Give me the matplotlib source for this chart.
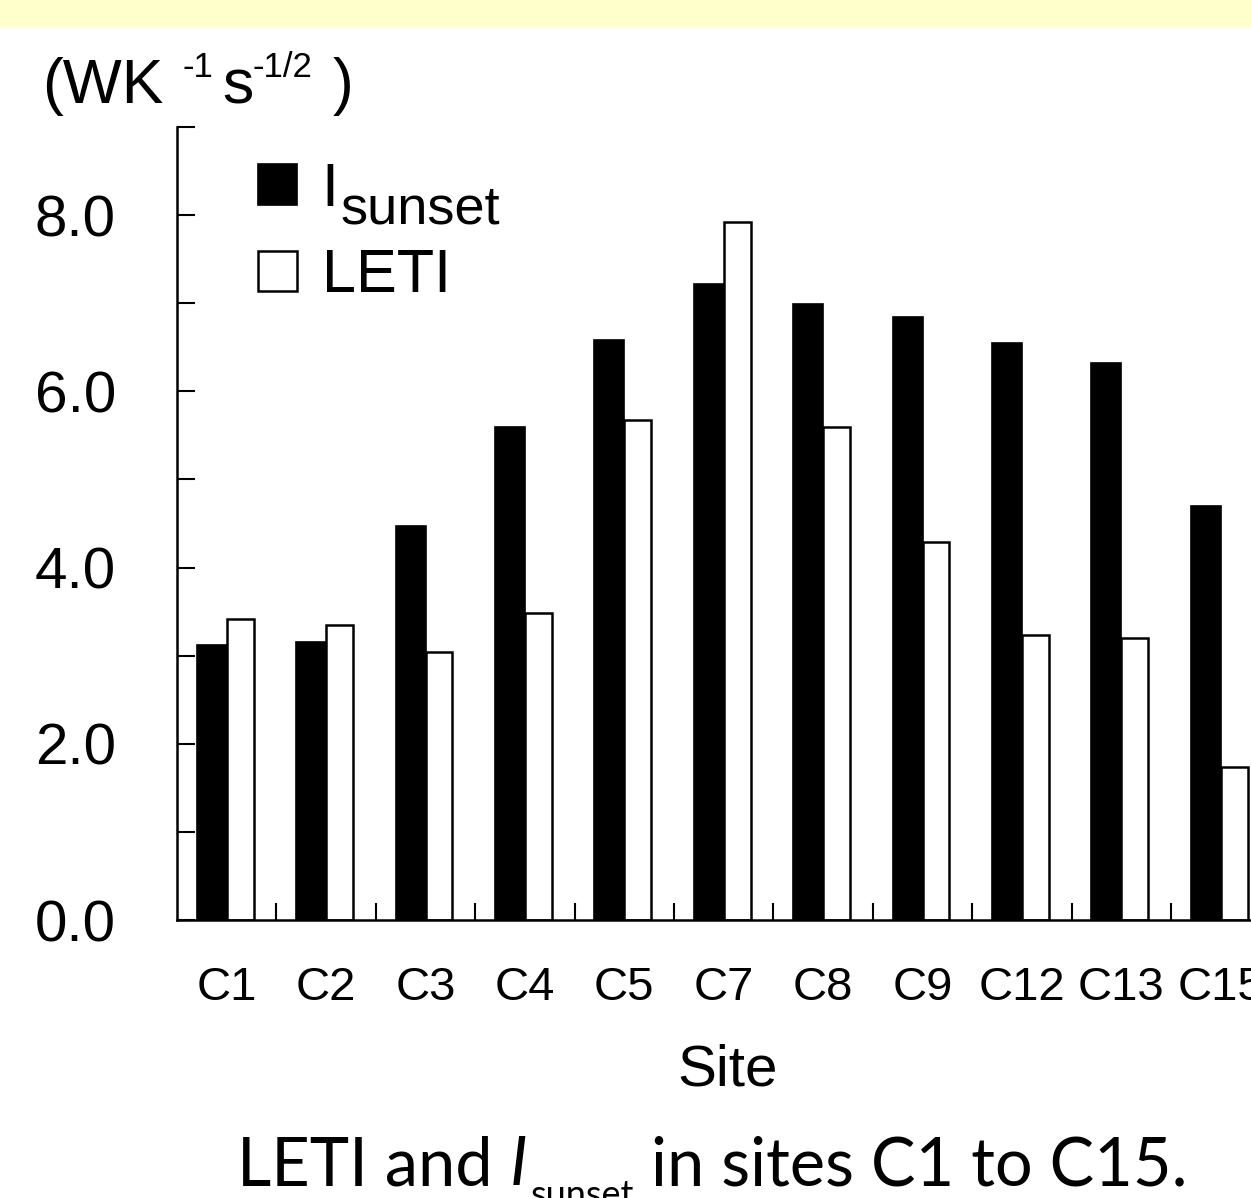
import numpy as np
import matplotlib
matplotlib.use("Agg")
import matplotlib.pyplot as plt
from matplotlib.patches import Rectangle
from matplotlib.ticker import FixedLocator

# values (W K^-1 s^-1/2)
sites = ["C1", "C2", "C3", "C4", "C5", "C7", "C8", "C9", "C12", "C13", "C15"]
i_sunset = [3.12, 3.16, 4.47, 5.60, 6.58, 7.22, 6.99, 6.84, 6.55, 6.32, 4.70]
leti = [3.42, 3.35, 3.04, 3.48, 5.68, 7.92, 5.60, 4.29, 3.23, 3.20, 1.74]
y_major = [0, 2, 4, 6, 8]
y_minor = [1, 3, 5, 7, 9]

plt.rcParams["font.family"] = ["Liberation Sans", "DejaVu Sans"]

W, H = 1251, 1198
fig = plt.figure(figsize=(W / 100, H / 100), dpi=100)
fig.patch.set_facecolor("white")


def fy(py):
    # pixel row from the top -> figure fraction
    return 1 - py / H


# yellow band on top
fig.patches.append(Rectangle((0, fy(27)), 1, 27 / H, transform=fig.transFigure,
                             facecolor="#FFFFCC", edgecolor="none", zorder=0))

left, bottom, top = 177 / W, fy(920), fy(127)
ax = fig.add_axes([left, bottom, 11 * 99.4 / W, top - bottom])

x = np.arange(len(sites))
ax.bar(x - 0.15, i_sunset, width=0.30, color="black", edgecolor="black",
       linewidth=1.2, label="I")
ax.bar(x + 0.135, leti, width=0.27, color="white", edgecolor="black",
       linewidth=1.8, label="LETI")

ax.set_xlim(-0.5, len(sites) - 0.5)
ax.set_ylim(0, 9)

for s in ["top", "right"]:
    ax.spines[s].set_visible(False)
for s in ["left", "bottom"]:
    ax.spines[s].set_linewidth(1.8)

ax.yaxis.set_major_locator(FixedLocator(y_major))
ax.yaxis.set_minor_locator(FixedLocator(y_minor))
ax.set_yticklabels([f"{v:.1f}" for v in y_major])
ax.tick_params(axis="y", which="both", direction="in", length=13, width=1.5,
               pad=44, labelsize=42)

# boundary ticks between sites, labels at the centres
ax.xaxis.set_major_locator(FixedLocator(x[:-1] + 0.5))
ax.xaxis.set_major_formatter(plt.NullFormatter())
ax.set_xticks(x, sites, minor=True)
ax.tick_params(axis="x", which="major", direction="in", length=12, width=1.5)
ax.tick_params(axis="x", which="minor", length=0, pad=33, labelsize=34)

leg = ax.legend(loc="upper left", bbox_to_anchor=(258 / W, fy(162)),
                bbox_transform=fig.transFigure, frameon=False, fontsize=44,
                handlelength=0.64, handleheight=0.64, handletextpad=0.4,
                labelspacing=0.48, borderpad=0, borderaxespad=0)

# y unit label
fig.text(42 / W, fy(103), "(WK", fontsize=45, va="baseline")
fig.text(183 / W, fy(77), "-1", fontsize=25, va="baseline")
fig.text(222 / W, fy(103), "s", fontsize=45, va="baseline")
fig.text(252 / W, fy(77), "-1/2", fontsize=25, va="baseline")
fig.text(333 / W, fy(103), ")", fontsize=45, va="baseline")

fig.text(728 / W, fy(1071), "Site", fontsize=42, ha="center", va="center")

fig.canvas.draw()
renderer = fig.canvas.get_renderer()

# subscript of the legend label
bb = leg.get_texts()[0].get_window_extent(renderer)
fig.text((bb.x1 + 2) / W, (bb.y0 - 15) / H, "sunset", fontsize=39,
         ha="left", va="bottom")

# caption: LETI and I_sunset in sites C1 to C15.
cap_size = 48
cap_base = fy(1185)


def width(t):
    return t.get_window_extent(renderer).width


probe = fig.text(0, 0, "a a", family="Lato", fontsize=cap_size)
probe2 = fig.text(0, 0, "aa", family="Lato", fontsize=cap_size)
space = width(probe) - width(probe2)
probe.remove()
probe2.remove()

cx = 237
t = fig.text(cx / W, cap_base, "LETI and", family="Lato", fontsize=cap_size, va="baseline")
cx += width(t) + space
t = fig.text(cx / W, cap_base, "I", family="Lato", style="italic", fontsize=cap_size,
             va="baseline")
cx += width(t) + 3
t = fig.text(cx / W, cap_base - 21 / H, "sunset", family="Lato", fontsize=26, va="baseline")
cx += width(t) + space
fig.text(cx / W, cap_base, "in sites C1 to C15.", family="Lato", fontsize=cap_size,
         va="baseline")

fig.savefig("out.png", dpi=100)
